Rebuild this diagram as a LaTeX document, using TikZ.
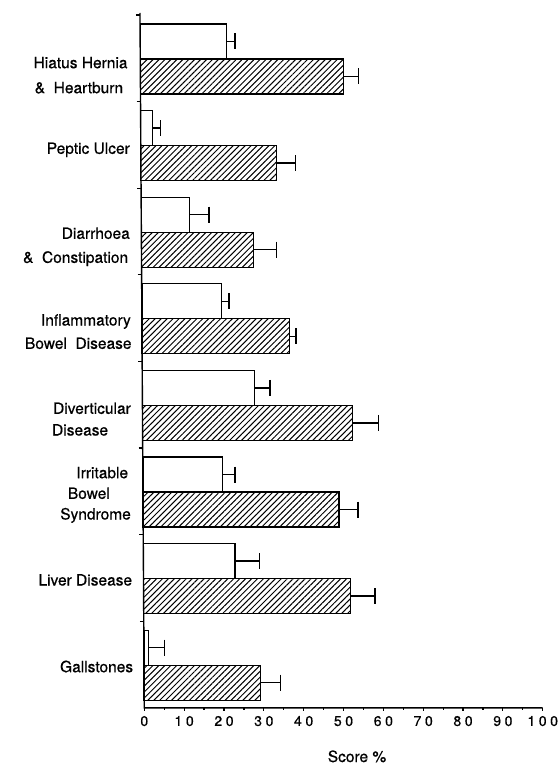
\documentclass[tikz,border=0pt]{standalone}
\usepackage{fontspec}
\setmainfont{TeX Gyre Heros}
\newfontfamily\labfont{TeX Gyre Heros}[FakeBold=0.6]
\usetikzlibrary{patterns.meta}

% axis origin at the bottom, scale (points per percent), slant of the vertical axis
\def\xo{144.3}
\def\xs{3.984}
\def\ybot{707.8}
\def\pitch{86.6}
\def\slant{0.00621}

\tikzset{
  outline/.style={line width=1.3pt, line join=miter},
  hatched/.style={pattern={Lines[angle=45,distance=4.2pt,line width=1pt]}},
  errbar/.style={line width=1.3pt},
  catlabel/.style={anchor=base east, inner sep=0pt, font=\fontsize{15.5}{18}\labfont},
  ticklabel/.style={anchor=north, inner sep=0pt, font=\fontsize{14}{16}\labfont},
}
\newcommand\dg{\kern3.6pt}

\begin{document}
\begin{tikzpicture}[x=1pt,y=-1pt]
\useasboundingbox (0,0) rectangle (559,765);

% bars: index / control mean / control error / patient mean / patient error
\foreach \k/\wv/\we/\hv/\he in {
  0/21.7/23.8/51.0/54.8,
  1/3.0/5.0/34.1/38.8,
  2/12.0/17.0/28.2/33.9,
  3/19.9/21.9/37.0/38.7,
  4/28.1/32.0/52.8/59.2,
  5/19.9/23.1/49.2/54.0,
  6/23.0/29.1/52.0/58.1,
  7/1.1/5.1/29.3/34.3}{
  \pgfmathsetmacro\gt{15+\pitch*\k}
  \pgfmathsetmacro\ox{\xo-\slant*(\ybot-\gt-44)}
  \pgfmathsetmacro\tx{\xo-\slant*(\ybot-\gt)}
  \pgfmathsetmacro\wx{\ox+\xs*\wv}
  \pgfmathsetmacro\wex{\ox+\xs*\we}
  \pgfmathsetmacro\hx{\ox+\xs*\hv}
  \pgfmathsetmacro\hex{\ox+\xs*\he}
  % open bar
  \draw[outline] (\ox,\gt+9) rectangle (\wx,\gt+44);
  \draw[errbar] (\wx,\gt+26.5) -- (\wex,\gt+26.5)
                (\wex,\gt+18.5) -- (\wex,\gt+34.5);
  % hatched bar
  \fill[hatched] (\ox,\gt+44) rectangle (\hx,\gt+79);
  \draw[outline] (\ox,\gt+44) rectangle (\hx,\gt+79);
  \draw[errbar] (\hx,\gt+61.5) -- (\hex,\gt+61.5)
                (\hex,\gt+53.5) -- (\hex,\gt+69.5);
  % group tick on the vertical axis
  \draw[line width=1.2pt] (\tx-4,\gt) -- (\tx,\gt);
}

% axes
\pgfmathsetmacro\xtop{\xo-\slant*(\ybot-13)}
\draw[line width=1.4pt] (\xtop,13) -- (\xo,\ybot) -- (\xo+\xs*100,\ybot);
\foreach \v/\t in {0/0,10/1\dg0,20/2\dg0,30/3\dg0,40/4\dg0,50/5\dg0,
                   60/6\dg0,70/7\dg0,80/8\dg0,90/9\dg0,100/1\dg0\dg0}{
  \draw[line width=1.2pt] (\xo+\xs*\v,\ybot) -- (\xo+\xs*\v,\ybot+3.5);
  \node[ticklabel] (t\v) at (\xo+\xs*\v,\ybot+8) {\t};
}
\foreach \v in {5,15,...,95}{
  \draw[line width=1.2pt] (\xo+\xs*\v,\ybot) -- (\xo+\xs*\v,\ybot+2.5);
}
\node[anchor=base, inner sep=0pt, font=\fontsize{15.5}{18}\labfont] (xlabel) at (357,762) {Score \%};

% category labels
\node[catlabel] (l1a) at (127.7,68.2) {Hiatus Hernia};
\node[catlabel] (l1b) at (123.3,93.2) {\&\ \ Heartburn};
\node[catlabel] (l2)  at (130,153.8) {Peptic Ulcer};
\node[catlabel] (l3a) at (130,238.8) {Diarrhoea};
\node[catlabel] (l3b) at (128.3,262.8) {\&\ \ Constipation};
\node[catlabel] (l4a) at (131,325.5) {Inflammatory};
\node[catlabel] (l4b) at (131.7,348.8) {Bowel\ \ Disease};
\node[catlabel] (l5a) at (131,413.8) {Diverticular};
\node[catlabel] (l5b) at (108.3,435.5) {Disease};
\node[catlabel] (l6a) at (128.3,478.2) {Irritable};
\node[catlabel] (l6b) at (110,498.8) {Bowel};
\node[catlabel] (l6c) at (131,519.5) {Syndrome};
\node[catlabel] (l7)  at (132.3,585.5) {Liver Disease};
\node[catlabel] (l8)  at (133.3,672.2) {Gallstones};
\end{tikzpicture}
\end{document}
